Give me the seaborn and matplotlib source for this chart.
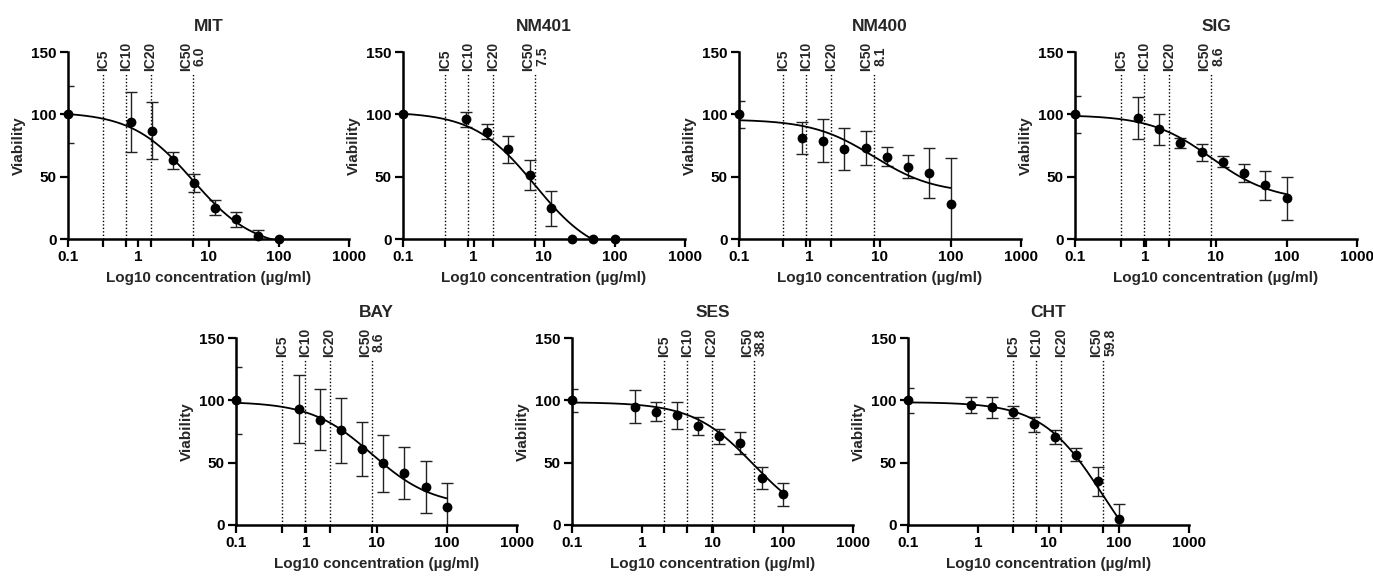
import numpy as np
import pandas as pd
import matplotlib
matplotlib.use("Agg")
import matplotlib.pyplot as plt
from matplotlib.ticker import NullFormatter
import seaborn as sns

sns.set_theme(style="ticks")
plt.rcParams['font.family'] = ['Liberation Sans', 'DejaVu Sans']
plt.rcParams['font.weight'] = 'bold'

# ---------------- data ----------------
conc = [0.1, 0.78, 1.56, 3.125, 6.25, 12.5, 25, 50, 100]

names = ["MIT", "NM401", "NM400", "SIG", "BAY", "SES", "CHT"]

MIT_mean = [100, 94, 87, 63, 45, 25, 16, 2.5, 0]
MIT_sd = [23, 24, 23, 6.5, 7.5, 6, 6, 5, 0]
NM401_mean = [100, 96, 86, 72, 51.5, 24.5, 0, 0, 0]
NM401_sd = [0, 6, 6, 11, 12, 14, 0, 0, 0]
NM400_mean = [100, 81, 79, 72, 73, 66, 58, 53, 28]
NM400_sd = [11, 13, 17, 17, 14, 7.5, 9, 20, 37]
SIG_mean = [100, 97, 88, 77, 69.5, 62, 53, 43, 32.5]
SIG_sd = [15, 17, 12.5, 4, 7, 4.5, 7.5, 11.5, 17.5]
BAY_mean = [100, 93, 84.5, 76, 61, 49.5, 41.5, 30.5, 14.5]
BAY_sd = [27, 27.5, 24.5, 26, 22, 23, 21, 20.5, 19.5]
SES_mean = [100, 95, 91, 88, 79.5, 71, 66, 37.5, 24.5]
SES_sd = [9, 13, 7.5, 11, 7.5, 6, 9, 9, 9]
CHT_mean = [100, 96.5, 94.5, 90.5, 81, 70.5, 56.5, 35, 5]
CHT_sd = [10, 6.5, 8.5, 5, 6, 5.5, 5, 11.5, 11.5]

means = [MIT_mean, NM401_mean, NM400_mean, SIG_mean, BAY_mean, SES_mean, CHT_mean]
sds = [MIT_sd, NM401_sd, NM400_sd, SIG_sd, BAY_sd, SES_sd, CHT_sd]

# fitted dose-response parameters (top, bottom, IC50, hill)
fit_top = [102, 102, 96, 99.5, 99, 98.5, 98.6]
fit_bottom = [-8, -16, 36.5, 30.5, 14.7, -2, -51]
ic50 = [6.0, 7.5, 8.1, 8.6, 8.6, 38.8, 59.8]
hill = [1, 1, 1, 1, 1, 1, 1]

# IC marker positions
ic5 = [0.316, 0.395, 0.426, 0.453, 0.453, 2.04, 3.15]
ic10 = [0.667, 0.833, 0.90, 0.956, 0.956, 4.31, 6.64]
ic20 = [1.5, 1.875, 2.025, 2.15, 2.15, 9.7, 14.95]
ic50_label = ["6.0", "7.5", "8.1", "8.6", "8.6", "38.8", "59.8"]

xticks = [0.1, 1, 10, 100, 1000]
xticklabels = ["0.1", "1", "10", "100", "1000"]
yticks = [0, 50, 100, 150]

# ---------------- layout ----------------
W, H = 1373, 577
fig = plt.figure(figsize=(W / 100, H / 100), dpi=100)
boxes = [(68, 349, 52, 239), (403, 685, 52, 239), (739, 1021, 52, 239), (1075, 1357, 52, 239),
         (236, 517, 338, 525), (572, 853, 338, 525), (908, 1189, 338, 525)]

for i, name in enumerate(names):
    x0, x1, yt, yb = boxes[i]
    ax = fig.add_axes([x0 / W, 1 - yb / H, (x1 - x0) / W, (yb - yt) / H])
    ax.set_xscale('log')
    ax.set_xlim(0.1, 1000)
    ax.set_ylim(0, 150)

    # fitted curve
    xs = np.logspace(-1, 2, 300)
    ys = fit_bottom[i] + (fit_top[i] - fit_bottom[i]) / (1 + (xs / ic50[i]) ** hill[i])
    cdf = pd.DataFrame({"x": xs, "y": ys})
    sns.lineplot(data=cdf, x="x", y="y", ax=ax, color="black", linewidth=1.3, zorder=3)

    # error bars
    m = np.array(means[i], dtype=float)
    s = np.array(sds[i], dtype=float)
    mask = s > 0
    ax.errorbar(np.array(conc)[mask], m[mask], yerr=s[mask], fmt='none', ecolor='#222222',
                elinewidth=1.0, capsize=4, capthick=1.0, zorder=2)

    # points
    pdf = pd.DataFrame({"x": conc, "y": m})
    sns.scatterplot(data=pdf, x="x", y="y", ax=ax, color="black", s=50, linewidth=0, zorder=5)
    ax.collections[-1].set_clip_on(False)

    # IC lines
    ic_vals = [ic5[i], ic10[i], ic20[i], ic50[i]]
    ic_txt = ["IC5", "IC10", "IC20", "IC50\n" + ic50_label[i]]
    for v, t in zip(ic_vals, ic_txt):
        ax.vlines(v, 0, 133, colors='black', linestyles=(0, (1, 1.5)), linewidth=1.0, zorder=1)
        ax.text(v, 135, t, rotation=90, ha='center', va='bottom', fontsize=10,
                fontweight='bold', multialignment='center', linespacing=1.0)

    ax.set_xticks(xticks)
    ax.set_xticklabels(xticklabels)
    ax.set_xticks(ic_vals, minor=True)
    ax.xaxis.set_minor_formatter(NullFormatter())
    ax.set_yticks(yticks)
    ax.tick_params(axis='both', which='major', direction='out', length=6, width=1.6,
                   labelsize=11, color='black', labelcolor='black', pad=2)
    ax.tick_params(axis='x', which='minor', direction='out', length=6, width=1.6, color='black')
    for lab in ax.get_xticklabels() + ax.get_yticklabels():
        lab.set_fontweight('bold')

    sns.despine(ax=ax)
    for sp in ['left', 'bottom']:
        ax.spines[sp].set_linewidth(1.8)
        ax.spines[sp].set_color('black')

    ax.set_xlabel("Log10 concentration (µg/ml)", fontsize=11, fontweight='bold', labelpad=5)
    ax.set_ylabel("Viability", fontsize=11, fontweight='bold', labelpad=4)
    ax.set_title(name, fontsize=12.5, fontweight='bold', pad=15)

fig.savefig("out.png", dpi=100)
